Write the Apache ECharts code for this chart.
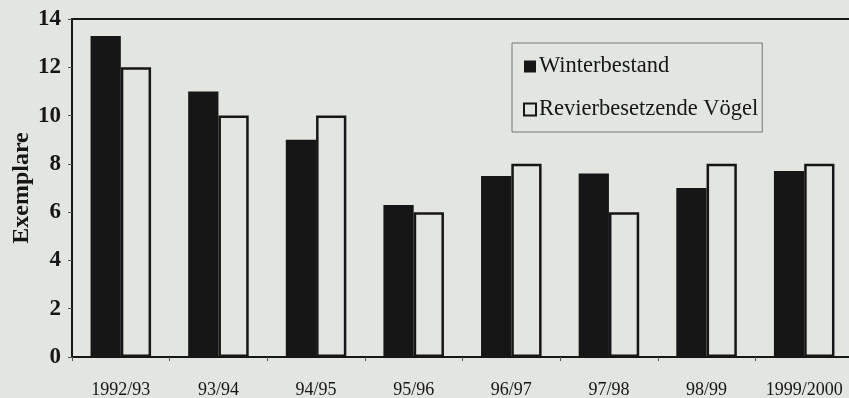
<!DOCTYPE html>
<html>
<head>
<meta charset="utf-8">
<script src="https://cdn.jsdelivr.net/npm/echarts@6/dist/echarts.min.js"></script>
<style>
  html, body { margin: 0; padding: 0; background: #e2e5e0; }
  #chart { width: 849px; height: 398px; }
</style>
</head>
<body>
<div id="chart"></div>
<script>
// Winter population vs. territory-holding birds per season
const seasons = ['1992/93', '93/94', '94/95', '95/96', '96/97', '97/98', '98/99', '1999/2000'];
const winterbestand = [13.3, 11.0, 9.0, 6.3, 7.5, 7.6, 7.0, 7.7];
const revierVoegel = [12, 10, 10, 6, 8, 6, 8, 8];
const yTicks = { min: 0, max: 14, interval: 2 };

const paper = '#e2e5e0';
const ink = '#161616';
const serif = '"Liberation Serif", "DejaVu Serif", serif';

const chart = echarts.init(document.getElementById('chart'));
chart.setOption({
  backgroundColor: paper,
  animation: false,
  grid: {
    left: 72, top: 19, bottom: 41, right: -4,
    outerBoundsMode: 'none',
    containLabel: false,
    show: true, borderColor: ink, borderWidth: 2, backgroundColor: 'transparent'
  },
  legend: {
    orient: 'vertical',
    left: 512, top: 43,
    padding: [12, 4, 11, 11],
    itemGap: 20,
    itemWidth: 12, itemHeight: 12,
    icon: 'rect',
    borderColor: '#777', borderWidth: 1,
    textStyle: { fontFamily: serif, fontSize: 22.5, color: ink, padding: [0, 0, 0, -2] },
    data: ['Winterbestand', 'Revierbesetzende Vögel']
  },
  xAxis: {
    type: 'category',
    data: seasons,
    axisLine: { lineStyle: { color: ink, width: 2 } },
    axisTick: { show: true, interval: 0, length: 4, lineStyle: { color: '#555', width: 1 } },
    axisLabel: { interval: 0, fontFamily: serif, fontSize: 18, color: ink, margin: 24 },
    splitLine: { show: false }
  },
  yAxis: {
    type: 'value',
    min: yTicks.min, max: yTicks.max, interval: yTicks.interval,
    name: 'Exemplare',
    nameLocation: 'middle',
    nameGap: 38,
    nameMoveOverlap: false,
    nameRotate: 90,
    nameTextStyle: { fontFamily: serif, fontSize: 24, fontWeight: 'bold', color: ink },
    axisLine: { show: true, lineStyle: { color: ink, width: 2 } },
    axisTick: { show: true, length: 4, lineStyle: { color: '#555', width: 1 } },
    axisLabel: { fontFamily: serif, fontSize: 23, fontWeight: 'bold', color: ink, margin: 11 },
    splitLine: { show: false }
  },
  series: [
    {
      name: 'Winterbestand',
      type: 'bar',
      data: winterbestand,
      barGap: '0%',
      barCategoryGap: '38%',
      itemStyle: { color: ink, borderColor: ink, borderWidth: 0 }
    },
    {
      name: 'Revierbesetzende Vögel',
      type: 'bar',
      data: revierVoegel,
      itemStyle: { color: paper, borderColor: ink, borderWidth: 2.5 }
    }
  ]
});
</script>
</body>
</html>
